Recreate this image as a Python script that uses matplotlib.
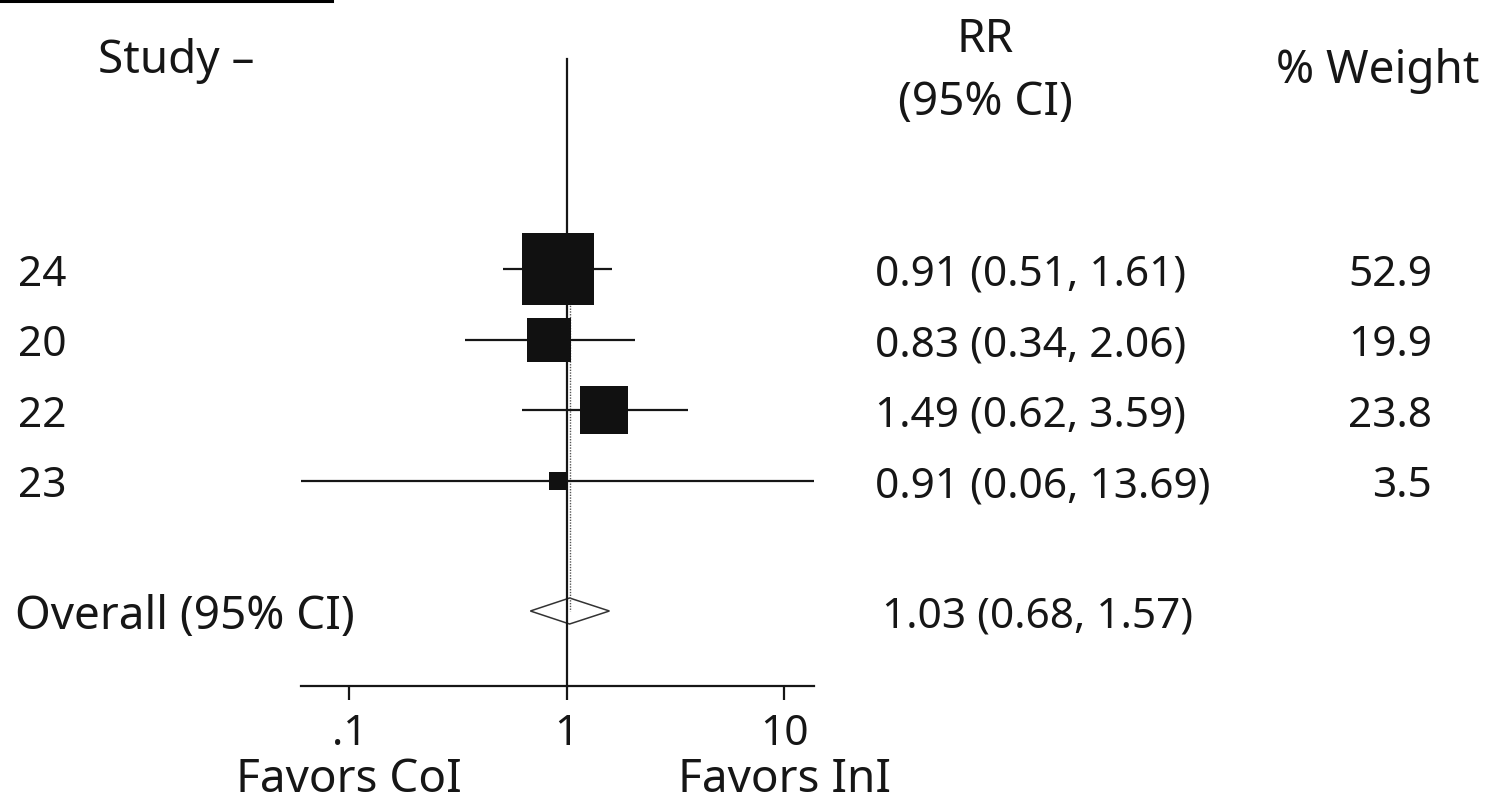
import numpy as np
import matplotlib
matplotlib.use('Agg')
import matplotlib.pyplot as plt
from matplotlib.patches import Polygon
from matplotlib.lines import Line2D
from matplotlib.transforms import blended_transform_factory

plt.rcParams['font.family'] = ['Noto Sans', 'DejaVu Sans']

# study rows
studies = ['24', '20', '22', '23']
rr = [0.91, 0.83, 1.49, 0.91]
ci_lo = [0.51, 0.34, 0.62, 0.06]
ci_hi = [1.61, 2.06, 3.59, 13.69]
weight = [52.9, 19.9, 23.8, 3.5]

# pooled estimate
overall_rr = 1.03
overall_lo = 0.68
overall_hi = 1.57

tick_vals = [0.1, 1, 10]
tick_labels = ['.1', '1', '10']
favor_pos = [0.1, 10]
favor_labels = ['Favors CoI', 'Favors InI']

W, H = 1496, 803
AXIS_Y = 687          # pixel row of the x axis line
ROW0, ROW_GAP = 270, 70.5
OVERALL_Y = 612

fig = plt.figure(figsize=(W / 100, H / 100), dpi=100)
# y data runs in pixels from the top of the figure down to the axis line
ax = fig.add_axes([301 / W, (H - AXIS_Y) / H, 513 / W, AXIS_Y / H])
ax.set_xscale('log')
ax.set_xlim(0.06, 13.69)
ax.set_ylim(AXIS_Y, 0)

ink = '#161616'
rows = np.arange(len(studies))
row_y = ROW0 + rows * ROW_GAP

# reference line at 1 and dotted line at pooled estimate
ax.plot([1, 1], [60, AXIS_Y], color=ink, lw=1.6, clip_on=False)
ax.plot([overall_rr, overall_rr], [row_y[0] - 36, OVERALL_Y], color='#555555',
        lw=1.0, ls=(0, (1, 1)), clip_on=False)

# confidence intervals and weight boxes (box area proportional to weight)
for i in rows:
    ax.plot([ci_lo[i], ci_hi[i]], [row_y[i], row_y[i]], color=ink, lw=1.6,
            clip_on=False, solid_capstyle='butt')
    side = 9.8 * np.sqrt(weight[i]) * 0.72
    ax.plot(rr[i], row_y[i], marker='s', ms=side, color='#111111', mew=0,
            clip_on=False)

# pooled diamond
h = 13
diamond = Polygon([(overall_lo, OVERALL_Y), (overall_rr, OVERALL_Y - h),
                   (overall_hi, OVERALL_Y), (overall_rr, OVERALL_Y + h)],
                  closed=True, fill=False, edgecolor='#333333', lw=1.1)
ax.add_patch(diamond)

for s in ['top', 'right', 'left']:
    ax.spines[s].set_visible(False)
ax.spines['bottom'].set_linewidth(1.6)
ax.spines['bottom'].set_color(ink)
ax.set_yticks([])
ax.set_xticks(tick_vals)
ax.set_xticklabels(tick_labels)
ax.xaxis.set_minor_locator(matplotlib.ticker.NullLocator())
ax.tick_params(axis='x', length=10, width=1.6, color=ink, pad=9,
               labelsize=30.5, labelcolor=ink)

tr = blended_transform_factory(fig.transFigure, ax.transData)
fs_num = 30.5
fs_txt = 33

# left column
for i in rows:
    ax.text(18 / W, row_y[i], studies[i], transform=tr, fontsize=fs_num,
            color=ink, ha='left', va='center_baseline')
ax.text(15 / W, OVERALL_Y, 'Overall (95% CI)', transform=tr, fontsize=fs_txt,
        color=ink, ha='left', va='center_baseline')

# right columns
for i in rows:
    ax.text(875 / W, row_y[i], f'{rr[i]:.2f} ({ci_lo[i]:.2f}, {ci_hi[i]:.2f})',
            transform=tr, fontsize=fs_num, color=ink, ha='left',
            va='center_baseline')
    ax.text(1432 / W, row_y[i], f'{weight[i]:.1f}', transform=tr,
            fontsize=fs_num, color=ink, ha='right', va='center_baseline')
ax.text(882 / W, OVERALL_Y,
        f'{overall_rr:.2f} ({overall_lo:.2f}, {overall_hi:.2f})',
        transform=tr, fontsize=fs_num, color=ink, ha='left',
        va='center_baseline')

# headers
fig.text(98 / W, 1 - 55 / H, 'Study \u2013', fontsize=fs_txt, color=ink,
         ha='left', va='center_baseline')
fig.text(985 / W, 1 - 35 / H, 'RR', fontsize=fs_txt, color=ink,
         ha='center', va='center_baseline')
fig.text(985 / W, 1 - 97 / H, '(95% CI)', fontsize=fs_txt, color=ink,
         ha='center', va='center_baseline')
fig.text(1378 / W, 1 - 66 / H, '% Weight', fontsize=fs_txt, color=ink,
         ha='center', va='center_baseline')

# favour captions sit under the .1 and 10 ticks
tr_cap = blended_transform_factory(ax.transData, fig.transFigure)
for xv, lab in zip(favor_pos, favor_labels):
    ax.text(xv, 1 - 775 / H, lab, transform=tr_cap, fontsize=fs_txt,
            color=ink, ha='center', va='center_baseline', clip_on=False)

# rule at the top edge
fig.add_artist(Line2D([0, 332 / W], [1 - 1.5 / H, 1 - 1.5 / H], color='black', lw=2.2))

fig.savefig('out.png', dpi=100)
